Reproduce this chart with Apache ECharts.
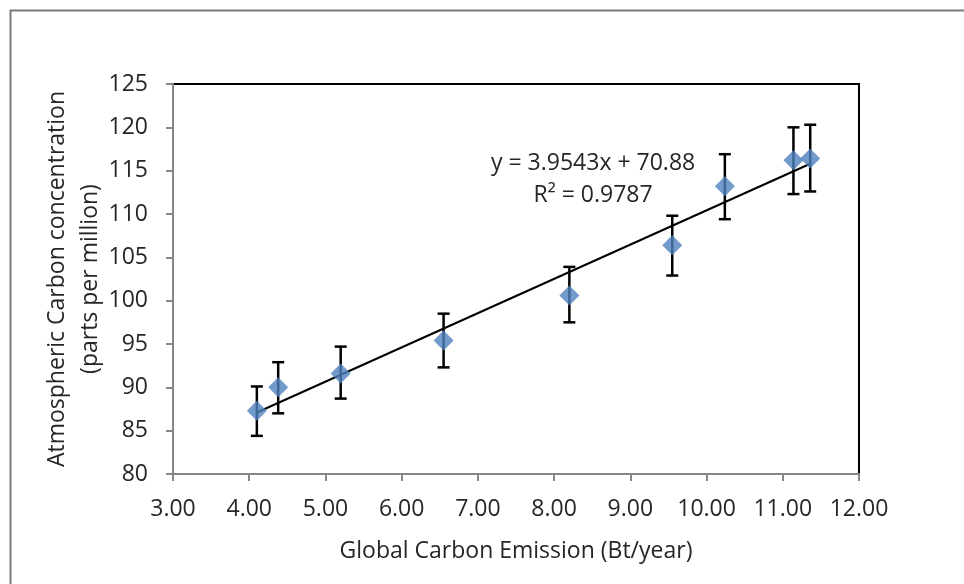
<!DOCTYPE html>
<html>
<head>
<meta charset="utf-8">
<script src="https://cdn.jsdelivr.net/npm/echarts@6/dist/echarts.min.js"></script>
<style>
  html, body { margin: 0; padding: 0; background: #fff; }
  #chart { width: 964px; height: 584px; }
</style>
</head>
<body>
<div id="chart"></div>
<script>
// emission (Bt/year) vs concentration (ppm), with error bar bounds
var emission = [4.10, 4.38, 5.20, 6.55, 8.20, 9.55, 10.24, 11.14, 11.36];
var concentration = [87.3, 90.0, 91.6, 95.4, 100.6, 106.4, 113.2, 116.2, 116.4];
var errLow = [84.4, 87.0, 88.7, 92.3, 97.5, 102.9, 109.4, 112.3, 112.6];
var errHigh = [90.1, 92.9, 94.7, 98.5, 103.9, 109.8, 116.9, 120.0, 120.3];
// linear trendline from the chart label
var slope = 3.9543;
var intercept = 70.88;

var FONT = 'Open Sans';
var TXT = '#262626';
var FS = 23;

var points = emission.map(function (x, i) { return [x, concentration[i]]; });
var bars = emission.map(function (x, i) { return [x, errLow[i], errHigh[i]]; });
var xMin = Math.min.apply(null, emission);
var xMax = Math.max.apply(null, emission);
var trend = [[xMin, slope * xMin + intercept], [xMax, slope * xMax + intercept]];

var myChart = echarts.init(document.getElementById('chart'));
myChart.setOption({
    animation: false,
    backgroundColor: '#fff',
    grid: {
        left: 173, top: 84, right: 105, bottom: 110,
        show: true, borderColor: '#000', borderWidth: 2
    },
    xAxis: {
        type: 'value', min: 3, max: 12, interval: 1,
        name: 'Global Carbon Emission (Bt/year)',
        nameLocation: 'middle', nameGap: 66,
        nameTextStyle: { fontFamily: FONT, fontSize: FS, color: TXT },
        axisLine: { lineStyle: { color: '#868686', width: 2 } },
        axisTick: { show: true, length: 7, lineStyle: { color: '#868686', width: 2 } },
        axisLabel: {
            fontFamily: FONT, fontSize: FS, color: TXT, margin: 24,
            formatter: function (v) { return v.toFixed(2); }
        },
        splitLine: { show: false }
    },
    yAxis: {
        type: 'value', min: 80, max: 125, interval: 5,
        name: 'Atmospheric Carbon concentration\n(parts per million)',
        nameLocation: 'middle', nameRotate: 90, nameGap: 66,
        nameMoveOverlap: false,
        nameTextStyle: { fontFamily: FONT, fontSize: FS, color: TXT, lineHeight: 33 },
        axisLine: { lineStyle: { color: '#868686', width: 2 } },
        axisTick: { show: true, length: 7, lineStyle: { color: '#868686', width: 2 } },
        axisLabel: { fontFamily: FONT, fontSize: FS, color: TXT, margin: 25 },
        splitLine: { show: false }
    },
    graphic: [
        {
            type: 'rect', left: 8, top: 8, z: -1,
            shape: { width: 1000, height: 1000 },
            style: { fill: 'none', stroke: '#7a7a7a', lineWidth: 2 }
        },
        {
            type: 'text', left: 491, top: 147,
            style: {
                text: 'y = 3.9543x + 70.88\nR² = 0.9787',
                font: FS + 'px "Open Sans"', fill: TXT,
                lineHeight: 32, textAlign: 'center'
            }
        }
    ],
    series: [
        {
            type: 'line', data: trend, symbol: 'none', z: 3,
            lineStyle: { color: '#000', width: 2 }
        },
        {
            type: 'custom', data: bars, z: 4,
            renderItem: function (params, api) {
                var x = api.value(0);
                var lo = api.coord([x, api.value(1)]);
                var hi = api.coord([x, api.value(2)]);
                var cap = 6;
                var st = { stroke: '#000', lineWidth: 2.5 };
                return {
                    type: 'group',
                    children: [
                        { type: 'line', shape: { x1: lo[0], y1: lo[1], x2: hi[0], y2: hi[1] }, style: st },
                        { type: 'line', shape: { x1: lo[0] - cap, y1: lo[1], x2: lo[0] + cap, y2: lo[1] }, style: st },
                        { type: 'line', shape: { x1: hi[0] - cap, y1: hi[1], x2: hi[0] + cap, y2: hi[1] }, style: st }
                    ]
                };
            }
        },
        {
            type: 'scatter', data: points, z: 5,
            symbol: 'diamond', symbolSize: [20, 20],
            itemStyle: { color: '#4f81bd' }
        }
    ]
});
</script>
</body>
</html>
